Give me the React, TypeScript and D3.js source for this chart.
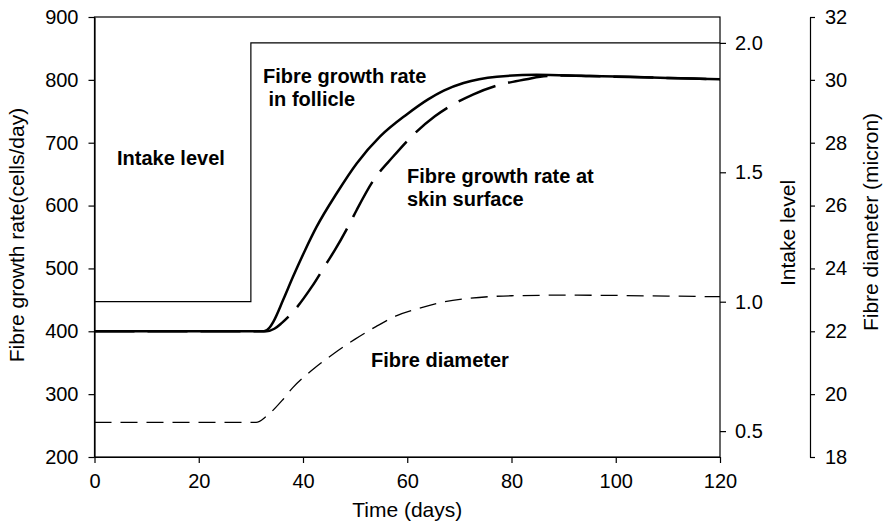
import React, { useEffect, useRef } from "react";
import * as d3 from "d3";

// ---- Data ----
const xTicks = [0, 20, 40, 60, 80, 100, 120];
const leftTicks = [200, 300, 400, 500, 600, 700, 800, 900];
const intakeTicks = [0.5, 1.0, 1.5, 2.0];
const diamTicks = [18, 20, 22, 24, 26, 28, 30, 32];

const intakeDays = [0, 30, 30, 120];
const intakeLevel = [1.0, 1.0, 2.0, 2.0];

const follicleDays = [0, 20, 32.5, 33.6, 34.3, 36.2, 38.1, 40.4, 42.6, 46.5, 50.3, 54.8, 59.9, 64, 67, 70.8, 77.2, 84.8, 95, 102.7, 110, 120];
const follicleRate = [400, 400, 400, 406, 415, 450, 487, 529, 566, 620, 667, 710, 745, 769, 783, 795, 805, 808, 806, 805, 803, 801];

const skinDays = [0, 20, 33, 34.5, 35.9, 38.1, 41.7, 44.5, 46.1, 49, 50.3, 53.5, 57.3, 61.2, 65.3, 72.7, 77.2, 82.9, 85.5, 90, 95, 100, 110, 120];
const skinRate = [400, 400, 400, 404, 413, 431, 471, 508, 529, 572, 593, 640, 678, 713, 742, 777, 791, 801, 805, 807, 806, 805, 803, 801];

const diamDays = [0, 20, 31, 33, 36, 38, 42, 46, 50, 54, 58, 62, 66, 72, 80, 90, 100, 110, 120];
const diamMicron = [19.1, 19.1, 19.1, 19.3, 19.8, 20.2, 20.8, 21.3, 21.75, 22.15, 22.5, 22.72, 22.9, 23.05, 23.13, 23.15, 23.14, 23.12, 23.1];

const W = 886;
const H = 525;
const L = 94.5, R = 720, T = 17, B = 457;
const FONT = "'Liberation Sans', Arial, Helvetica, sans-serif";

export default function App() {
  const ref = useRef<SVGSVGElement | null>(null);

  useEffect(() => {
    const svg = d3.select(ref.current);
    svg.selectAll("*").remove();

    const x = d3.scaleLinear().domain([0, 120]).range([L, R]);
    const yL = d3.scaleLinear().domain([200, 900]).range([B, T]);
    const yI = d3.scaleLinear().domain([0.4, 2.1]).range([B, T]);
    const yD = d3.scaleLinear().domain([18, 32]).range([B, T]);

    const g = svg.append("g").attr("font-family", FONT);

    // frame
    g.append("rect")
      .attr("x", L).attr("y", T).attr("width", R - L).attr("height", B - T)
      .attr("fill", "none").attr("stroke", "#000").attr("stroke-width", 1.2);

    const styleAxis = (sel: any) => {
      sel.selectAll("path.domain").attr("stroke", "#000").attr("stroke-width", 1.2);
      sel.selectAll(".tick line").attr("stroke", "#000").attr("stroke-width", 1.2);
      sel.selectAll(".tick text").attr("fill", "#000").attr("font-size", 20).attr("font-family", FONT);
    };

    const ax1 = g.append("g").attr("transform", `translate(${L},0)`)
      .call(d3.axisLeft(yL).tickValues(leftTicks).tickSize(6).tickSizeOuter(0).tickPadding(10).tickFormat(d3.format("d")));
    styleAxis(ax1);

    const ax2 = g.append("g").attr("transform", `translate(0,${B})`)
      .call(d3.axisBottom(x).tickValues(xTicks).tickSize(6).tickSizeOuter(0).tickPadding(11).tickFormat(d3.format("d")));
    styleAxis(ax2);

    const ax3 = g.append("g").attr("transform", `translate(${R},0)`)
      .call(d3.axisRight(yI).tickValues(intakeTicks).tickSize(6).tickSizeOuter(0).tickPadding(9).tickFormat(d3.format(".1f")));
    styleAxis(ax3);
    ax3.select("path.domain").remove();

    const ax4 = g.append("g").attr("transform", `translate(810,0)`)
      .call(d3.axisRight(yD).tickValues(diamTicks).tickSize(5).tickSizeOuter(0).tickPadding(10).tickFormat(d3.format("d")));
    styleAxis(ax4);

    // lines
    const intakeLine = d3.line<number>().x((d, i) => x(intakeDays[i])).y((d) => yI(d));
    g.append("path").attr("d", intakeLine(intakeLevel) as string)
      .attr("fill", "none").attr("stroke", "#000").attr("stroke-width", 1.2);

    const diamLine = d3.line<number>().x((d, i) => x(diamDays[i])).y((d) => yD(d)).curve(d3.curveMonotoneX);
    g.append("path").attr("d", diamLine(diamMicron) as string)
      .attr("fill", "none").attr("stroke", "#000").attr("stroke-width", 1.3)
      .attr("stroke-dasharray", "17,9");

    const skinLine = d3.line<number>().x((d, i) => x(skinDays[i])).y((d) => yL(d)).curve(d3.curveMonotoneX);
    g.append("path").attr("d", skinLine(skinRate) as string)
      .attr("fill", "none").attr("stroke", "#000").attr("stroke-width", 2.5)
      .attr("stroke-dasharray", "40,13");

    const follLine = d3.line<number>().x((d, i) => x(follicleDays[i])).y((d) => yL(d)).curve(d3.curveMonotoneX);
    g.append("path").attr("d", follLine(follicleRate) as string)
      .attr("fill", "none").attr("stroke", "#000").attr("stroke-width", 2.5);

    // axis titles
    g.append("text").attr("transform", `translate(17,235) rotate(-90)`)
      .attr("text-anchor", "middle").attr("dy", "0.35em").attr("font-size", 21)
      .text("Fibre growth rate(cells/day)");
    g.append("text").attr("transform", `translate(788,233) rotate(-90)`)
      .attr("text-anchor", "middle").attr("dy", "0.35em").attr("font-size", 21)
      .text("Intake level");
    g.append("text").attr("transform", `translate(871,222) rotate(-90)`)
      .attr("text-anchor", "middle").attr("dy", "0.35em").attr("font-size", 21)
      .text("Fibre diameter (micron)");
    g.append("text").attr("x", (L + R) / 2).attr("y", 517)
      .attr("text-anchor", "middle").attr("font-size", 21).text("Time (days)");

    // annotations
    const ann: [string, number, number][] = [
      ["Intake level", 117, 165],
      ["Fibre growth rate", 263, 83],
      [" in follicle", 263, 106],
      ["Fibre growth rate at", 407, 183],
      ["skin surface", 407, 206],
      ["Fibre diameter", 371, 367],
    ];
    ann.forEach(([t, ax, ay]) => {
      g.append("text").attr("x", ax).attr("y", ay).attr("font-size", 20)
        .attr("font-weight", "bold").attr("xml:space", "preserve")
        .style("white-space", "pre").text(t);
    });
  }, []);

  return (
    <svg ref={ref} width={W} height={H}
      style={{ position: "absolute", left: 0, top: 0, background: "#fff" }} />
  );
}
